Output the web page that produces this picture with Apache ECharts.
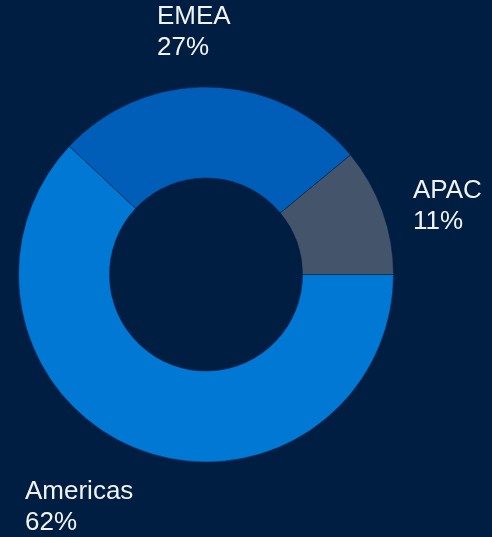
<!DOCTYPE html>
<html>
<head>
<meta charset="utf-8">
<script src="https://cdn.jsdelivr.net/npm/echarts@6/dist/echarts.min.js"></script>
<style>
  html, body { margin: 0; padding: 0; background: #001E41; }
  #chart { width: 492px; height: 537px; }
</style>
</head>
<body>
<div id="chart"></div>
<script>
var regions = ['Americas', 'EMEA', 'APAC'];
var shares = [62, 27, 11];
var colors = ['#0078D4', '#005EB8', '#44546A'];

// where each label sits (left edge, vertical middle)
var labelPos = [[25, 507.5], [157, 32.5], [413, 206]];

var chart = echarts.init(document.getElementById('chart'));

var data = regions.map(function (name, i) {
  return { name: name, value: shares[i], itemStyle: { color: colors[i] } };
});

var option = {
  backgroundColor: '#001E41',
  animation: false,
  series: [{
    type: 'pie',
    center: [206, 274.5],
    radius: [96.5, 187.5],
    startAngle: 0,
    clockwise: true,
    data: data,
    itemStyle: { borderColor: 'rgba(0,30,65,0.5)', borderWidth: 1 },
    label: {
      show: true,
      position: 'outside',
      alignTo: 'none',
      overflow: 'none',
      formatter: '{b}\n{d}%',
      color: '#F2F2F2',
      fontFamily: 'Liberation Sans, Arial, sans-serif',
      fontSize: 26,
      lineHeight: 31
    },
    labelLine: { show: false },
    labelLayout: function (params) {
      var p = labelPos[params.dataIndex];
      return { x: p[0], y: p[1], align: 'left', verticalAlign: 'middle', width: 200 };
    },
    emphasis: { disabled: true }
  }]
};

chart.setOption(option);
window.onresize = chart.resize;
</script>
</body>
</html>
